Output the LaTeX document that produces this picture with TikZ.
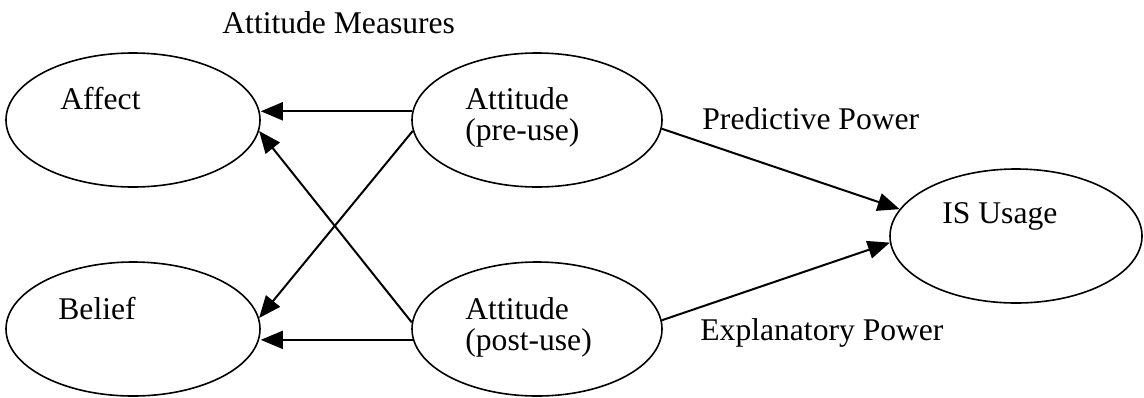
\documentclass[tikz,border=0pt]{standalone}
\usepackage{fontspec}
\setmainfont{Liberation Serif}
\usepackage{tikz}
\usetikzlibrary{shapes.geometric,arrows.meta}
\tikzset{
  ell/.style={draw=black, ellipse, line width=0.8pt, minimum width=127pt, minimum height=67pt, inner sep=0pt},
  lab/.style={text=black, font=\fontsize{15.8}{15.2}\selectfont, anchor=base west, inner sep=0pt, align=left},
  arr/.style={draw=black, line width=1pt, -{Triangle[length=11pt,width=9pt]}},
}
\begin{document}
\begin{tikzpicture}[x=0.5pt,y=-0.5pt]
  \useasboundingbox (0,0) rectangle (1144,397);
  \node[ell] (affect) at (133,120) {};
  \node[ell] (belief) at (133,329) {};
  \node[ell, minimum width=125pt] (pre) at (537,120) {};
  \node[ell, minimum width=125pt] (post) at (537,329) {};
  \node[ell, minimum width=126pt] (isu) at (1016,236) {};
  \node[lab] (affectT) at (60,109) {Affect};
  \node[lab] (beliefT) at (58,319) {Belief};
  \node[lab] (preT) at (465,140) {Attitude\\(pre-use)};
  \node[lab] (postT) at (465,350) {Attitude\\(post-use)};
  \node[lab] (isuT) at (942,223) {IS Usage};
  \node[lab] (meas) at (222,33) {Attitude Measures};
  \node[lab] (pred) at (702,129) {Predictive Power};
  \node[lab] (expl) at (700,340) {Explanatory Power};
  \draw[arr] (pre.176) -- (pre.176 -| affect.east);
  \draw[arr] (pre.185) -- (belief.5);
  \draw[arr] (post.177) -- (affect.-5);
  \draw[arr] (post.185) -- (post.185 -| belief.east);
  \draw[arr] (pre.-4) -- (isu.167);
  \draw[arr] (post.4) -- (isu.183);
\end{tikzpicture}
\end{document}
